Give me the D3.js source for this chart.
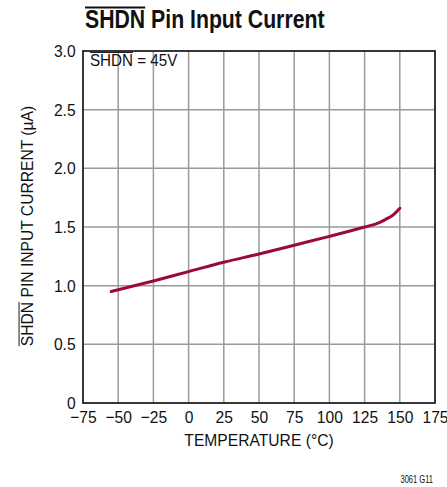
<!DOCTYPE html>
<html>
<head>
<meta charset="utf-8">
<script src="https://cdn.jsdelivr.net/npm/d3@7"></script>
<style>
  body { margin: 0; background: #fff; }
  text { font-family: "Liberation Sans", Arial, sans-serif; fill: #111; }
</style>
</head>
<body>
<div id="chart"></div>
<script>
// data
var temps = [-55, -25, 0, 25, 50, 75, 100, 125, 135, 140, 145, 150];
var current = [0.95, 1.04, 1.12, 1.20, 1.27, 1.345, 1.42, 1.50, 1.535, 1.565, 1.60, 1.66];
var xTicks = [-75, -50, -25, 0, 25, 50, 75, 100, 125, 150, 175];
var yTicks = [0, 0.5, 1.0, 1.5, 2.0, 2.5, 3.0];

// condensed look: the reference uses a narrow Helvetica
var NARROW = 0.92;

// text with optional overlined first part, squeezed horizontally
function label(parent, x, y, opts, parts) {
    var g = parent.append("g")
        .attr("transform", "translate(" + x + "," + y + ")" + (opts.rotate ? " rotate(" + opts.rotate + ")" : "") +
              " scale(" + (opts.sx || 1) + ",1)");
    var t = g.append("text")
        .attr("font-size", opts.size + "px")
        .attr("font-weight", opts.weight || "normal")
        .attr("text-anchor", opts.anchor || "start");
    parts.forEach(function(p) {
        var ts = t.append("tspan").text(p.text);
        p.node = ts.node();
    });
    parts.forEach(function(p, i) {
        if (!p.over) return;
        var x0 = t.node().getStartPositionOfChar(p.start || 0).x;
        var len = p.node.getComputedTextLength();
        g.append("line")
            .attr("x1", x0).attr("x2", x0 + len)
            .attr("y1", -opts.size * 0.82).attr("y2", -opts.size * 0.82)
            .attr("stroke", "#111").attr("stroke-width", opts.weight === "bold" ? 2 : 1);
    });
    return g;
}

function init() {
    var W = 447, H = 487;
    var margin = {top: 51, left: 83, right: 12, bottom: 84};
    var w = W - margin.left - margin.right; // 352
    var h = H - margin.top - margin.bottom; // 352

    var svg = d3.select("#chart").append("svg")
        .attr("width", W).attr("height", H);

    var x = d3.scaleLinear().domain([-75, 175]).range([0, w]);
    var y = d3.scaleLinear().domain([0, 3]).range([h, 0]);

    var g = svg.append("g")
        .attr("transform", "translate(" + margin.left + "," + margin.top + ")");

    // grid
    g.append("g")
        .selectAll("line")
        .data(xTicks.slice(1, -1))
        .enter().append("line")
        .attr("x1", function(d) { return x(d); })
        .attr("x2", function(d) { return x(d); })
        .attr("y1", 0).attr("y2", h)
        .attr("stroke", "#9a9a9a").attr("stroke-width", 1.5);

    g.append("g")
        .selectAll("line")
        .data(yTicks.slice(1, -1))
        .enter().append("line")
        .attr("y1", function(d) { return y(d); })
        .attr("y2", function(d) { return y(d); })
        .attr("x1", 0).attr("x2", w)
        .attr("stroke", "#9a9a9a").attr("stroke-width", 1.5);

    // frame
    g.append("rect")
        .attr("width", w).attr("height", h)
        .attr("fill", "none").attr("stroke", "#222").attr("stroke-width", 1.8);

    // axes (labels only)
    var xAxis = d3.axisBottom(x).tickValues(xTicks).tickSize(0).tickPadding(8)
        .tickFormat(function(d) { return d < 0 ? "\u2212" + Math.abs(d) : d; });
    g.append("g")
        .attr("transform", "translate(0," + h + ")")
        .call(xAxis)
        .call(function(s) { s.select(".domain").remove(); })
        .selectAll("text")
        .attr("font-size", "17px").attr("fill", "#111")
        .attr("transform", "scale(" + NARROW + ",1)")
        .style("font-family", "'Liberation Sans', Arial, sans-serif");

    var yAxis = d3.axisLeft(y).tickValues(yTicks).tickSize(0).tickPadding(8)
        .tickFormat(function(d) { return d === 0 ? "0" : d3.format(".1f")(d); });
    g.append("g")
        .call(yAxis)
        .call(function(s) { s.select(".domain").remove(); })
        .selectAll("text")
        .attr("font-size", "17px").attr("fill", "#111")
        .attr("transform", "scale(" + NARROW + ",1)")
        .style("font-family", "'Liberation Sans', Arial, sans-serif");

    // curve
    var line = d3.line()
        .x(function(d, i) { return x(temps[i]); })
        .y(function(d) { return y(d); })
        .curve(d3.curveMonotoneX);

    g.append("path")
        .datum(current)
        .attr("d", line)
        .attr("fill", "none")
        .attr("stroke", "#9b0a35")
        .attr("stroke-width", 3)
        .attr("stroke-linecap", "round");

    // annotation
    label(g, 7, 15, {size: 16.5, sx: NARROW}, [{text: "SHDN", over: true}, {text: " = 45V"}]);

    // title
    label(svg, 85, 28, {size: 25, weight: "bold", sx: 0.85},
          [{text: "SHDN", over: true}, {text: " Pin Input Current"}]);

    // axis titles
    label(svg, margin.left + w / 2, 446, {size: 17, sx: NARROW, anchor: "middle"},
          [{text: "TEMPERATURE (\u00B0C)"}]);

    label(svg, 33, margin.top + h / 2 - 1, {size: 17, sx: NARROW, anchor: "middle", rotate: -90},
          [{text: "SHDN", over: true}, {text: " PIN INPUT CURRENT (\u00B5A)"}]);

    label(svg, 433, 483, {size: 10.5, sx: 0.72, anchor: "end"}, [{text: "3061 G11"}]);
}

window.onload = init;
</script>
</body>
</html>
